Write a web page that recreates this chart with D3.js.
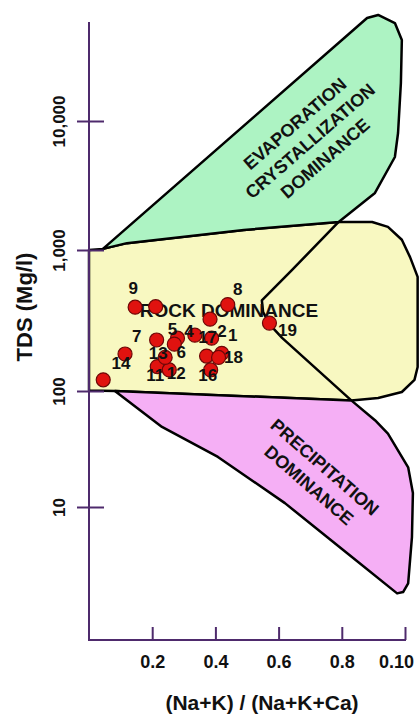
<!DOCTYPE html>
<html>
<head>
<meta charset="utf-8">
<script src="https://cdn.jsdelivr.net/npm/d3@7"></script>
<style>
  body { margin: 0; background: #fff; }
  svg { display: block; }
  text { font-family: "Liberation Sans", Arial, sans-serif; font-weight: bold; fill: #111; }
</style>
</head>
<body>
<div id="chart"></div>
<script>
// samples: (Na+K)/(Na+K+Ca) ratio and TDS (mg/l)
var sampleIds = [1, 2, 3, 4, 5, 6, 7, 8, 9, 10, 11, 12, 13, 14, 15, 16, 17, 18, 19];
var naRatio = [0.42, 0.383, 0.045, 0.335, 0.28, 0.27, 0.214, 0.439, 0.146, 0.211,
               0.216, 0.254, 0.241, 0.114, 0.372, 0.385, 0.388, 0.41, 0.571];
var tds = [185, 323, 120, 249, 237, 215, 230, 410, 393, 396,
           149, 141, 173, 183, 177, 141, 237, 173, 303];

// Gibbs fields, [ratio, TDS]
var evaporationZone = [[0.044, 1020], [0.12, 1130], [0.49, 1430], [0.79, 1650], [0.905, 2770],
  [0.968, 5260], [0.978, 8070], [0.987, 19700], [0.99, 42500], [0.968, 57500],
  [0.915, 66400], [0.88, 62800]];
var rockZone = [[0, 1000], [0.044, 1020], [0.12, 1130], [0.49, 1430], [0.79, 1650],
  [0.896, 1650], [0.946, 1510], [0.99, 1200], [1.016, 890], [1.04, 645], [1.04, 148],
  [1.03, 120], [0.99, 98], [0.915, 87], [0.83, 83], [0.41, 92], [0.082, 100], [0, 101]];
var precipitationZone = [[0.082, 100], [0.41, 92], [0.83, 83], [0.905, 56], [0.946, 43],
  [1.01, 22], [1.025, 13.2], [1.022, 5.5], [1.01, 2.2], [0.994, 1.85], [0.975, 1.8],
  [0.832, 3.7], [0.62, 10.8], [0.408, 27], [0.231, 49]];
var boomerangLine = [[0.79, 1650], [0.642, 720], [0.547, 440], [0.551, 363], [0.573, 294],
  [0.611, 238], [0.83, 83]];

var yTicks = [10, 100, 1000, 10000];
var xTicks = [0.2, 0.4, 0.6, 0.8, 1.0];
var xTickLabels = ["0.2", "0.4", "0.6", "0.8", "0.10"];

// label placement (pixels from the point), null = no label shown
var labelOffsets = [[11, -18], [12, 12], null, [-6, -4], [-5, -9], [7, 8], [-20, -4], [10, -16],
  [-2, -19], null, [-2, 8], [7, 3], [-7, -5], [-4, 9], null, [-3, 5], [-4, -1], [15, -1], [18, 7]];

var width = 420, height = 719;
var axisColor = "#4e2a6c";

var svg = d3.select("#chart").append("svg")
    .attr("width", width)
    .attr("height", height);

var x = d3.scaleLinear().domain([0, 1]).range([89, 405]);
// hand drawn log axis, decades are not evenly spaced
var y = d3.scaleLog().domain([10, 100, 1000, 10000]).range([507, 391, 250, 121]);

var line = d3.line()
    .x(function(d) { return x(d[0]); })
    .y(function(d) { return y(d[1]); });

var fields = svg.append("g");

fields.append("path")
    .attr("d", line.curve(d3.curveLinearClosed)(rockZone))
    .attr("fill", "#f8f8c1")
    .attr("stroke", "#000")
    .attr("stroke-width", 2.5)
    .attr("stroke-linejoin", "round");

fields.append("path")
    .attr("d", line.curve(d3.curveLinearClosed)(evaporationZone))
    .attr("fill", "#adf3c3")
    .attr("stroke", "#000")
    .attr("stroke-width", 2.5)
    .attr("stroke-linejoin", "round");

fields.append("path")
    .attr("d", line.curve(d3.curveLinearClosed)(precipitationZone))
    .attr("fill", "#f5aff5")
    .attr("stroke", "#000")
    .attr("stroke-width", 2.5)
    .attr("stroke-linejoin", "round");

fields.append("path")
    .attr("d", line.curve(d3.curveLinear)(boomerangLine))
    .attr("fill", "none")
    .attr("stroke", "#000")
    .attr("stroke-width", 2.5)
    .attr("stroke-linejoin", "round");

// axes
var xAxis = d3.axisBottom(x)
    .tickValues(xTicks)
    .tickFormat(function(d, i) { return xTickLabels[i]; })
    .tickSizeInner(-13)
    .tickSizeOuter(0);

var gx = svg.append("g")
    .attr("transform", "translate(0,640)")
    .call(xAxis);
gx.select(".domain").remove();
gx.selectAll("line").attr("stroke", axisColor).attr("stroke-width", 2);
gx.selectAll("text")
    .attr("y", 28)
    .attr("dy", 0)
    .attr("dx", function(d) { return d === 1 ? -9 : 0; })
    .style("font-size", "18px")
    .style("font-family", "'Liberation Sans', Arial, sans-serif")
    .style("font-weight", "bold")
    .attr("fill", "#111");

var yAxis = d3.axisLeft(y)
    .tickValues(yTicks)
    .tickFormat(d3.format(","))
    .tickSizeInner(12)
    .tickSizeOuter(0);

var gy = svg.append("g")
    .attr("transform", "translate(89,0)")
    .call(yAxis);
gy.select(".domain").remove();
gy.selectAll("line").attr("x2", 15).attr("x1", -12).attr("stroke", axisColor).attr("stroke-width", 2);
gy.selectAll("text")
    .attr("x", null)
    .attr("dy", 0)
    .attr("transform", "translate(-24,0) rotate(-90)")
    .attr("text-anchor", "middle")
    .style("font-size", "17px")
    .style("font-family", "'Liberation Sans', Arial, sans-serif")
    .style("font-weight", "bold")
    .attr("fill", "#111");

// axis lines
svg.append("line")
    .attr("x1", 89).attr("x2", 89).attr("y1", 22).attr("y2", 641)
    .attr("stroke", axisColor).attr("stroke-width", 2);
svg.append("line")
    .attr("x1", 88).attr("x2", 406).attr("y1", 640).attr("y2", 640)
    .attr("stroke", axisColor).attr("stroke-width", 2);

svg.append("text")
    .attr("transform", "translate(32,307) rotate(-90)")
    .attr("text-anchor", "middle")
    .style("font-size", "22px")
    .text("TDS (Mg/l)");

svg.append("text")
    .attr("x", 262)
    .attr("y", 710)
    .attr("text-anchor", "middle")
    .style("font-size", "21px")
    .text("(Na+K) / (Na+K+Ca)");

// field names
svg.append("text")
    .attr("x", 229)
    .attr("y", 317)
    .attr("text-anchor", "middle")
    .style("font-size", "19px")
    .text("ROCK DOMINANCE");

var evapText = svg.append("g")
    .attr("transform", "translate(310,141) rotate(-41)");
["EVAPORATION", "CRYSTALLIZATION", "DOMINANCE"].forEach(function(t, i) {
  evapText.append("text")
      .attr("y", (i - 1) * 23)
      .attr("dy", "0.35em")
      .attr("text-anchor", "middle")
      .style("font-size", "18px")
      .text(t);
});

var precText = svg.append("g")
    .attr("transform", "translate(317,476) rotate(41)");
["PRECIPITATION", "DOMINANCE"].forEach(function(t, i) {
  precText.append("text")
      .attr("y", (i - 0.5) * 24)
      .attr("dy", "0.35em")
      .attr("text-anchor", "middle")
      .style("font-size", "18px")
      .text(t);
});

// samples
var samples = sampleIds.map(function(id, i) {
  return { id: id, ratio: naRatio[i], tds: tds[i], off: labelOffsets[i] };
});

svg.append("g").selectAll("circle")
    .data(samples)
    .enter().append("circle")
    .attr("cx", function(d) { return x(d.ratio); })
    .attr("cy", function(d) { return y(d.tds); })
    .attr("r", 7)
    .attr("fill", "#e0120f")
    .attr("stroke", "#6e0707")
    .attr("stroke-width", 1.2);

svg.append("g").selectAll("text")
    .data(samples.filter(function(d) { return d.off; }))
    .enter().append("text")
    .attr("x", function(d) { return x(d.ratio) + d.off[0]; })
    .attr("y", function(d) { return y(d.tds) + d.off[1]; })
    .attr("dy", "0.36em")
    .attr("text-anchor", "middle")
    .style("font-size", "17px")
    .text(function(d) { return d.id; });
</script>
</body>
</html>
